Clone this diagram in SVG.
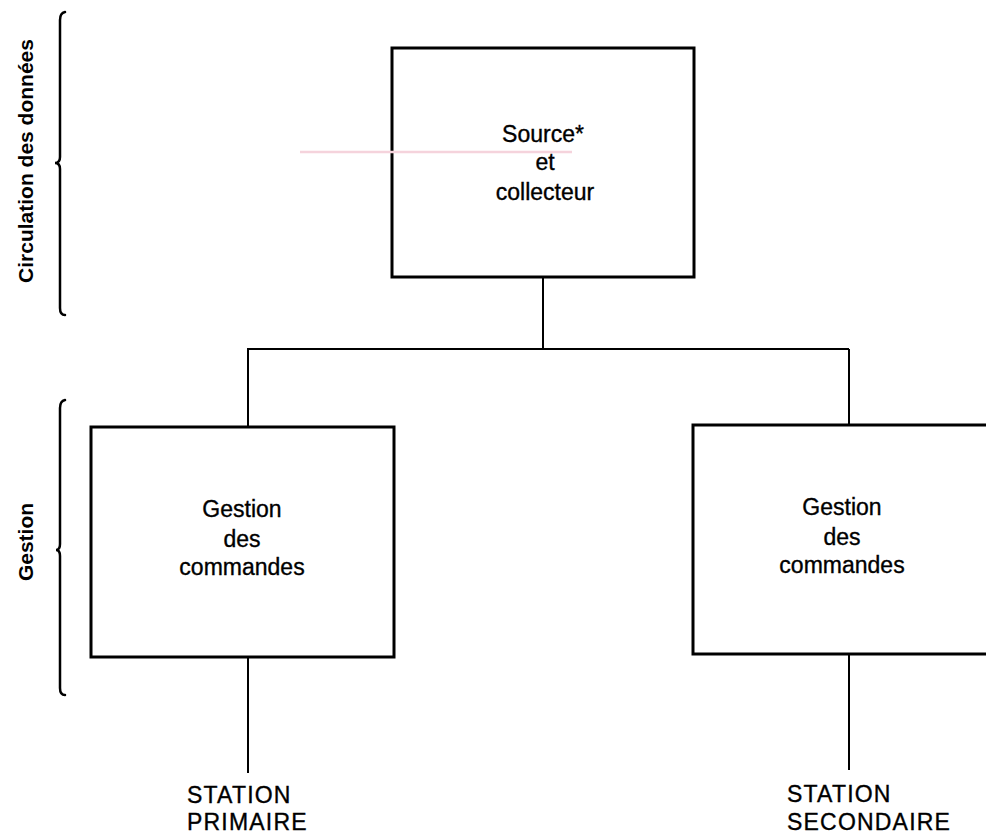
<svg xmlns="http://www.w3.org/2000/svg" width="986" height="834" viewBox="0 0 986 834">
<style>
.box{fill:#fff;stroke:#000;stroke-width:3}
.conn{fill:none;stroke:#000;stroke-width:2}
.brace{fill:none;stroke:#000;stroke-width:2.5;stroke-linecap:round}
.t{font-family:"Liberation Sans",Arial,sans-serif;font-size:23px;fill:#000;stroke:#000;stroke-width:0.35;text-anchor:middle}
.st{font-family:"Liberation Sans",Arial,sans-serif;font-size:23px;fill:#000;stroke:#000;stroke-width:0.35;letter-spacing:1.2px}
.side{font-family:"Liberation Sans",Arial,sans-serif;font-size:21px;font-weight:bold;fill:#000;text-anchor:middle}
</style>
<rect width="986" height="834" fill="#fff"/>
<g id="connectors">
<line class="conn" x1="543" y1="277" x2="543" y2="349"/>
<line class="conn" x1="247" y1="349" x2="849" y2="349"/>
<line class="conn" x1="248" y1="349" x2="248" y2="427"/>
<line class="conn" x1="849" y1="349" x2="849" y2="425"/>
<line class="conn" x1="248" y1="657" x2="248" y2="773"/>
<line class="conn" x1="849" y1="654" x2="849" y2="770"/>
</g>
<g id="braces">
<path class="brace" d="M65,12 Q60,13 60,20 L60,157 Q60,163 55,163 Q60,163 60,169 L60,308 Q60,315 65,315"/>
<path class="brace" d="M65,400 Q60,401 60,408 L60,544 Q60,550 56,550 Q60,550 60,556 L60,688 Q60,695 65,695"/>
<text class="side" transform="translate(33,161) rotate(-90)">Circulation des données</text>
<text class="side" transform="translate(33,542) rotate(-90)">Gestion</text>
</g>
<g id="source">
<rect class="box" x="392" y="48" width="302" height="229"/>
<line x1="300" y1="152" x2="572" y2="152" stroke="#f5d3dc" stroke-width="2.5"/>
<text class="t" x="543" y="142">Source*</text>
<text class="t" x="545" y="170">et</text>
<text class="t" x="545" y="200">collecteur</text>
</g>
<g id="gestion-primaire">
<rect class="box" x="91" y="427" width="303" height="230"/>
<text class="t" x="242" y="517">Gestion</text>
<text class="t" x="242" y="547">des</text>
<text class="t" x="242" y="575">commandes</text>
</g>
<g id="gestion-secondaire">
<rect class="box" x="693" y="425" width="300" height="229"/>
<text class="t" x="842" y="515">Gestion</text>
<text class="t" x="842" y="545">des</text>
<text class="t" x="842" y="573">commandes</text>
</g>
<g id="station-primaire">
<text class="st" x="187" y="803">STATION</text>
<text class="st" x="187" y="830">PRIMAIRE</text>
</g>
<g id="station-secondaire">
<text class="st" x="787" y="802">STATION</text>
<text class="st" x="787" y="830">SECONDAIRE</text>
</g>
</svg>
